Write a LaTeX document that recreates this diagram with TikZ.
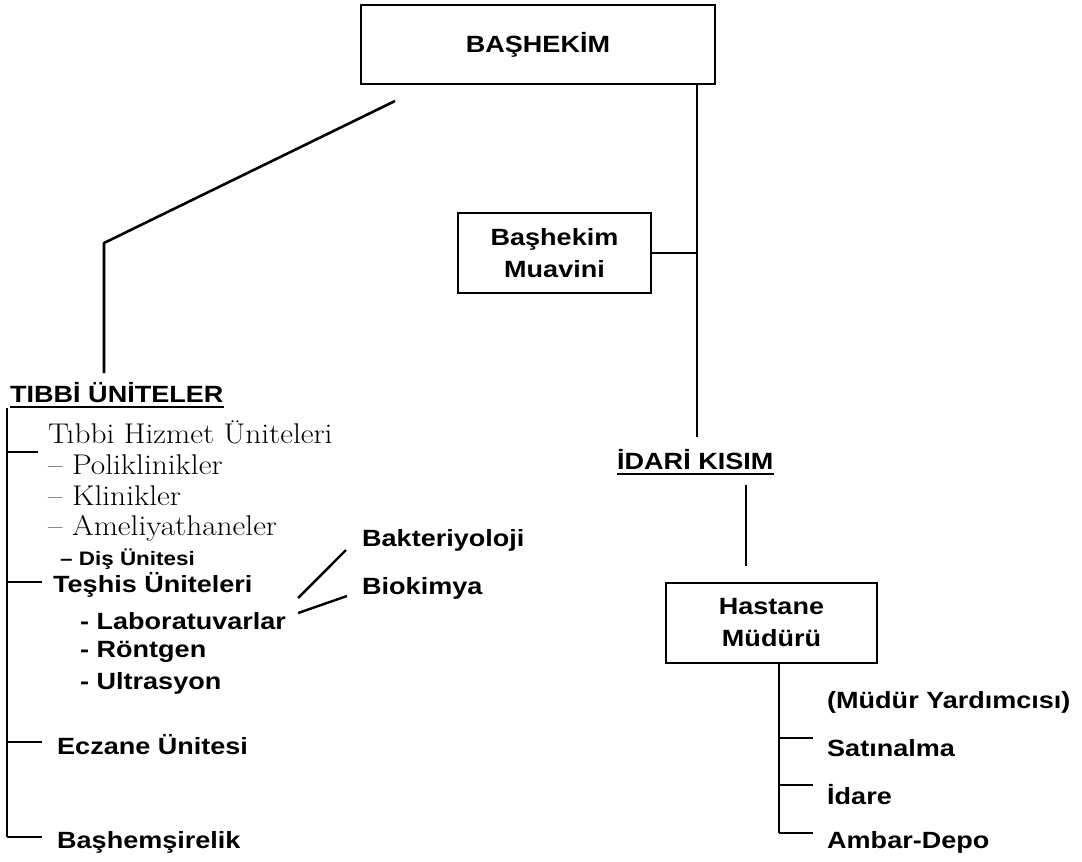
\documentclass[tikz,border=0pt]{standalone}
\usepackage{fontspec}
\newfontfamily\hsans{Liberation Sans}[FakeStretch=1.15]
\newfontfamily\lmwide{Latin Modern Roman}[FakeStretch=1.1]
\begin{document}
\begin{tikzpicture}[x=1pt, y=-1pt,
    box/.style={draw, line width=1.6pt, inner sep=0pt, align=center, font=\hsans\bfseries\fontsize{23.5}{32}\selectfont},
    lbl/.style={anchor=west, inner sep=0pt, font=\hsans\bfseries\fontsize{23.5}{32}\selectfont},
    srf/.style={anchor=base west, inner sep=0pt, font=\lmwide\fontsize{28.5}{32}\selectfont},
    ln/.style={line width=1.6pt},
    ul/.style={line width=1.3pt}]
    \useasboundingbox (0,0) rectangle (1082,862);
    \node[box, minimum width=354pt, minimum height=79pt] (hekim) at (538,44.5) {BAŞHEKİM};
    \node[box, minimum width=193pt, minimum height=80pt] (muavini) at (554.5,253) {Başhekim\\Muavini};
    \node[box, minimum width=211pt, minimum height=80pt] (hastane) at (771.5,623) {Hastane\\Müdürü};
    \node[lbl] (tibbi) at (10,393) {TIBBİ ÜNİTELER};
    \node[lbl] (idari) at (617,460) {İDARİ KISIM};
    \draw[ul] ([yshift=-4pt]tibbi.base west) -- ([yshift=-4pt]tibbi.base east);
    \draw[ul] ([yshift=-4pt]idari.base west) -- ([yshift=-4pt]idari.base east);
    \coordinate (vend) at (697,437);
    \draw[ln] (hekim.south -| vend) -- (vend);
    \draw[ln] (muavini.east) -- (muavini.east -| vend);
    \coordinate (dstart) at (395,101);
    \coordinate (dknee) at (104,243);
    \coordinate (dend) at (104,373);
    \draw[line width=2.6pt, line join=round] (dstart) -- (dknee) -- (dend);
    \coordinate (ik) at (746,485);
    \draw[ln, shorten >=16pt] (ik) -- (ik |- hastane.north);
    \node[srf] (hizmet) at (48,443) {Tıbbi Hizmet Üniteleri};
    \node[srf] (polik) at (48,474) {– Poliklinikler};
    \node[srf] (klinik) at (48,505) {– Klinikler};
    \node[srf] (amel) at (48,535) {– Ameliyathaneler};
    \node[lbl, font=\hsans\bfseries\fontsize{19.5}{22}\selectfont] (dis) at (60,559) {– Diş Ünitesi};
    \node[lbl] (teshis) at (53,585) {Teşhis Üniteleri};
    \node[lbl] (lab) at (80,621) {- Laboratuvarlar};
    \node[lbl] (ront) at (80,652) {- Röntgen};
    \node[lbl] (ultra) at (80,683) {- Ultrasyon};
    \node[lbl] (eczane) at (57,745) {Eczane Ünitesi};
    \node[lbl] (bashem) at (57,842) {Başhemşirelik};
    \node[lbl] (bakteri) at (362,540) {Bakteriyoloji};
    \node[lbl] (bio) at (362,588) {Biokimya};
    \draw[line width=2.4pt] ([shift={(12,-23)}]lab.east) -- ([shift={(-16,10)}]bakteri.west);
    \draw[line width=2.4pt] ([shift={(12,-8)}]lab.east) -- ([shift={(-15,8)}]bio.west);
    \coordinate (sp0) at (7,408);
    \coordinate (sp1) at (7,837);
    \draw[ln] (sp0) -- (sp1);
    \draw[ln] ([yshift=-9pt]hizmet.base west -| sp0) -- ++(31,0);
    \draw[ln] ([yshift=3pt]teshis.west -| sp0) -- ++(35,0);
    \draw[ln] ([yshift=3pt]eczane.west -| sp0) -- ++(35,0);
    \draw[ln] (sp1) -- ++(35,0);
    \node[lbl] (yard) at (827,702) {(Müdür Yardımcısı)};
    \node[lbl] (satin) at (827,748) {Satınalma};
    \node[lbl] (idare) at (827,795) {İdare};
    \node[lbl] (ambar) at (827,842) {Ambar-Depo};
    \coordinate (rsp) at (779,833);
    \draw[ln] (hastane.south -| rsp) -- (rsp);
    \draw[ln] ([yshift=10pt]satin.west -| rsp) -- ++(34,0);
    \draw[ln] ([yshift=10pt]idare.west -| rsp) -- ++(34,0);
    \draw[ln] (rsp) -- ++(34,0);
\end{tikzpicture}
\end{document}
